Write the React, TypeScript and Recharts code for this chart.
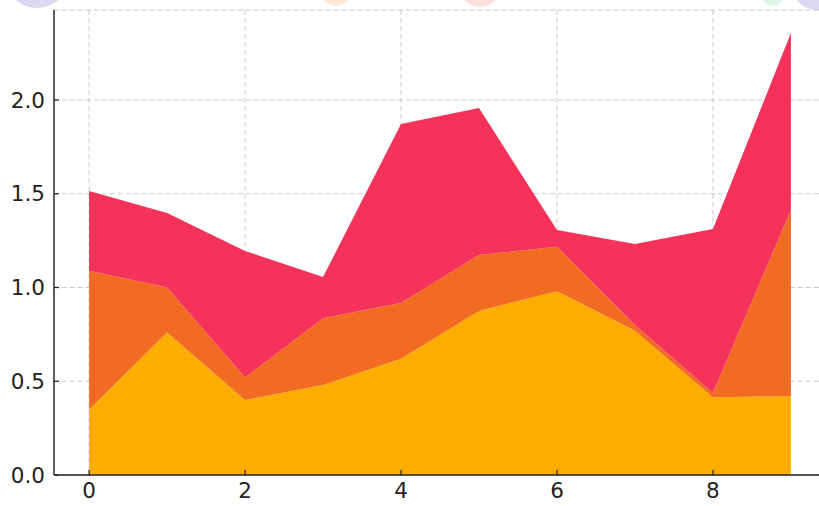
import { Area, AreaChart, CartesianGrid, XAxis, YAxis } from "recharts";

// Three stacked layers over x = 0..9.
const xs = [0, 1, 2, 3, 4, 5, 6, 7, 8, 9];
const layerA = [0.35, 0.76, 0.4, 0.48, 0.62, 0.875, 0.98, 0.77, 0.415, 0.42];
const layerB = [0.74, 0.24, 0.12, 0.356, 0.297, 0.298, 0.237, 0.03, 0.022, 0.993];
const layerC = [0.425, 0.397, 0.675, 0.22, 0.955, 0.784, 0.09, 0.432, 0.875, 0.944];

const xTicks = [0, 2, 4, 6, 8];
const yTicks = [0, 0.5, 1, 1.5, 2];

const data = xs.map((x, i) => ({ x, a: layerA[i], b: layerB[i], c: layerC[i] }));

const FONT = "'DejaVu Sans', sans-serif";
const tick = { fontSize: 21.5, fill: "#1f1f1f", fontFamily: FONT };

// faint cut-off shapes peeking in along the top edge
const blobs = [
  { left: 8, top: -42, w: 58, h: 50, bg: "#dcd8f2" },
  { left: 318, top: -40, w: 36, h: 46, bg: "#fdeadb" },
  { left: 458, top: -40, w: 44, h: 47, bg: "#fde1df" },
  { left: 758, top: -40, w: 30, h: 46, bg: "#dcf3e8" },
  { left: 792, top: -40, w: 50, h: 50, bg: "#dcd8f2" },
];

export default function App() {
  return (
    <div
      style={{
        position: "absolute",
        left: 0,
        top: 0,
        width: 819,
        height: 506,
        overflow: "hidden",
        background: "#fff",
      }}
    >
      {blobs.map((b, i) => (
        <div
          key={i}
          style={{
            position: "absolute",
            left: b.left,
            top: b.top,
            width: b.w,
            height: b.h,
            borderRadius: "50%",
            background: b.bg,
          }}
        />
      ))}
      <div style={{ position: "absolute", left: 0, top: 0 }}>
        <AreaChart
          width={830}
          height={506}
          data={data}
          margin={{ top: 10, right: 4, bottom: 0, left: 0 }}
        >
          <XAxis
            dataKey="x"
            type="number"
            domain={[-0.45, 9.45]}
            allowDataOverflow
            ticks={xTicks}
            height={31}
            tick={tick}
            tickSize={-5}
            tickMargin={13}
            axisLine={{ stroke: "#222", strokeWidth: 1.4 }}
            tickLine={{ stroke: "#222", strokeWidth: 1.2 }}
          />
          <YAxis
            type="number"
            domain={[0, 2.48]}
            allowDataOverflow
            ticks={yTicks}
            width={54}
            tick={tick}
            tickSize={-5}
            tickMargin={14}
            tickFormatter={(v: number) => v.toFixed(1)}
            axisLine={{ stroke: "#222", strokeWidth: 1.4 }}
            tickLine={{ stroke: "#222", strokeWidth: 1.2 }}
          />
          <Area
            type="linear"
            dataKey="a"
            stackId="1"
            stroke="none"
            fill="#fdac00"
            fillOpacity={1}
            isAnimationActive={false}
          />
          <Area
            type="linear"
            dataKey="b"
            stackId="1"
            stroke="none"
            fill="#f26b22"
            fillOpacity={1}
            isAnimationActive={false}
          />
          <Area
            type="linear"
            dataKey="c"
            stackId="1"
            stroke="none"
            fill="#f5335a"
            fillOpacity={1}
            isAnimationActive={false}
          />
          <CartesianGrid
            stroke="#b8b8b8"
            strokeOpacity={0.75}
            strokeDasharray="5 3"
            fill="none"
          />
        </AreaChart>
      </div>
    </div>
  );
}
